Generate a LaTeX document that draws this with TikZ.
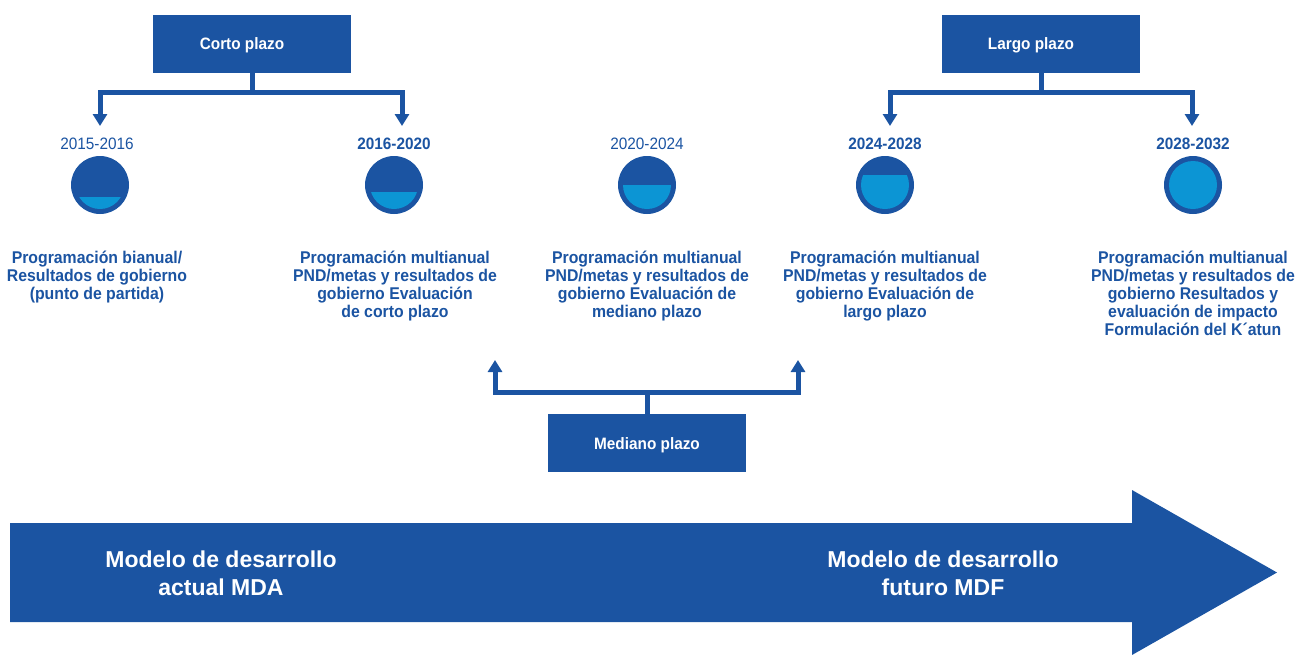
\documentclass[tikz,border=0pt]{standalone}
\usepackage{fontspec}
\setmainfont{Liberation Sans}[FakeStretch=0.93]
\newfontfamily\bigfont{Liberation Sans}
\usetikzlibrary{arrows.meta}
\definecolor{dk}{HTML}{1B54A2}
\definecolor{lt}{HTML}{0C95D4}
\newcommand\fillgauge[2]{%
  \begin{scope}
    \clip ([yshift=#2]#1.center) ++(-30,0) rectangle ++(60,80);
    \fill[lt] (#1.center) circle (24pt);
  \end{scope}}
\begin{document}
\begin{tikzpicture}[x=1pt,y=-1pt,
  box/.style={fill=dk, minimum width=198pt, minimum height=58pt, inner sep=0pt,
    text height=12pt, text depth=0pt,
    text=white, font=\fontsize{16.5}{18}\selectfont\bfseries},
  conn/.style={draw=dk, line width=5pt, -{Triangle[width=14pt,length=12pt]}},
  gauge/.style={circle, fill=dk, minimum size=58pt, inner sep=0pt},
  yr/.style={text=dk, inner sep=0pt, font=\fontsize{16.5}{18}\selectfont},
  yrb/.style={yr, font=\fontsize{16.5}{18}\selectfont\bfseries},
  desc/.style={text=dk, inner sep=0pt, align=center, anchor=north,
    font=\fontsize{17}{18}\selectfont\bfseries},
  bigtxt/.style={text=white, inner sep=0pt, align=center, anchor=base,
    font=\bigfont\bfseries\fontsize{23}{28.5}\selectfont}
]
\useasboundingbox (0,0) rectangle (1298,654);

% big arrow
\fill[dk] (10,523) -- (1132,523) -- (1132,490) -- (1277,572.5) -- (1132,655)
  -- (1132,622) -- (10,622) -- cycle;
\node[bigtxt] (mda) at (221,595.5) {Modelo de desarrollo\\actual MDA};
\node[bigtxt] (mdf) at (943,595.5) {Modelo de desarrollo\\futuro MDF};

% boxes
\node[box] (corto) at (252,43.5) {Corto plazo\hspace*{20pt}};
\node[box] (largo) at (1041,43.5) {Largo plazo\hspace*{20pt}};
\node[box] (mediano) at (647,443) {Mediano plazo};

% arrow tips
\coordinate (t1) at (100,126);
\coordinate (t2) at (402,126);
\coordinate (t4) at (890,126);
\coordinate (t5) at (1192,126);
\coordinate (m1) at (495,360);
\coordinate (m2) at (798,360);

\draw[conn] (corto.south) -- ++(0,20) -| (t1);
\draw[conn] (corto.south) -- ++(0,20) -| (t2);
\draw[conn] (largo.south) -- ++(0,20) -| (t4);
\draw[conn] (largo.south) -- ++(0,20) -| (t5);
\draw[conn] (mediano.north) -- ++(0,-21) -| (m1);
\draw[conn] (mediano.north) -- ++(0,-21) -| (m2);

% years
\node[yr, anchor=base] (y1) at (97,149) {2015-2016};
\node[yrb, anchor=base] (y2) at (394,149) {2016-2020};
\node[yr, anchor=base] (y3) at (647,149) {2020-2024};
\node[yrb, anchor=base] (y4) at (885,149) {2024-2028};
\node[yrb, anchor=base] (y5) at (1193,149) {2028-2032};

% gauges
\node[gauge] (g1) at (100,185) {};
\node[gauge] (g2) at (394,185) {};
\node[gauge] (g3) at (647,185) {};
\node[gauge] (g4) at (885,185) {};
\node[gauge] (g5) at (1193,185) {};
\fillgauge{g1}{-12pt}
\fillgauge{g2}{-7pt}
\fillgauge{g3}{0pt}
\fillgauge{g4}{10pt}
\fillgauge{g5}{30pt}

% descriptions
\node[desc] (d1) at (97,250.5) {Programación bianual/\\Resultados de gobierno\\(punto de partida)};
\node[desc] (d2) at (395,250.5) {Programación multianual\\PND/metas y resultados de\\gobierno Evaluación\\de corto plazo};
\node[desc] (d3) at (647,250.5) {Programación multianual\\PND/metas y resultados de\\gobierno Evaluación de\\mediano plazo};
\node[desc] (d4) at (885,250.5) {Programación multianual\\PND/metas y resultados de\\gobierno Evaluación de\\largo plazo};
\node[desc] (d5) at (1193,250.5) {Programación multianual\\PND/metas y resultados de\\gobierno Resultados y\\evaluación de impacto\\Formulación del K´atun};
\end{tikzpicture}
\end{document}
